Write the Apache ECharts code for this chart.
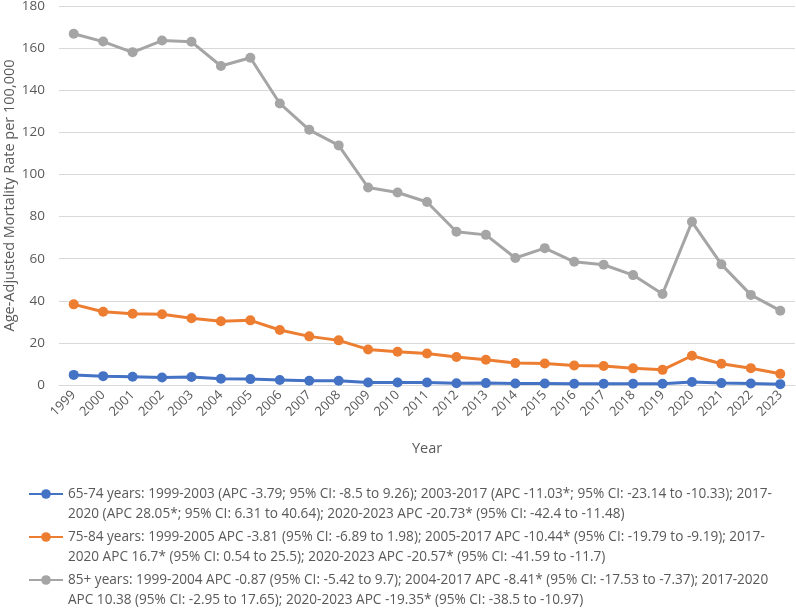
<!DOCTYPE html>
<html>
<head>
<meta charset="utf-8">
<script src="https://cdn.jsdelivr.net/npm/echarts@6/dist/echarts.min.js"></script>
<style>
  html, body { margin: 0; padding: 0; background: #fff; }
  #chart { width: 796px; height: 608px; }
</style>
</head>
<body>
<div id="chart"></div>
<script>
// years on the x axis
const years = [
  "1999", "2000", "2001", "2002", "2003", "2004", "2005", "2006", "2007",
  "2008", "2009", "2010", "2011", "2012", "2013", "2014", "2015", "2016",
  "2017", "2018", "2019", "2020", "2021", "2022", "2023",
];
// age-adjusted mortality rate per 100,000
const age6574 = [
  4.8, 4.2, 3.9, 3.6, 3.8, 3.0, 2.8, 2.4, 2.0, 2.0, 1.2, 1.2, 1.2, 0.8, 0.9,
  0.7, 0.7, 0.6, 0.6, 0.6, 0.6, 1.4, 0.9, 0.7, 0.4,
];
const age7584 = [
  38.3, 34.8, 33.8, 33.6, 31.7, 30.3, 30.7, 26.1, 23.1, 21.2, 16.9, 15.8,
  15.0, 13.3, 12.0, 10.4, 10.2, 9.3, 9.0, 7.9, 7.2, 13.9, 10.1, 8.0, 5.3,
];
const age85plus = [
  166.8, 163.1, 158.0, 163.6, 163.0, 151.5, 155.4, 133.7, 121.2, 113.8, 93.8,
  91.4, 86.9, 72.8, 71.3, 60.3, 65.0, 58.5, 57.1, 52.2, 43.2, 77.5, 57.3,
  42.8, 35.3,
];
const yTicks = { min: 0, max: 180, interval: 20 };

const seriesNames = ["65-74 years", "75-84 years", "85+ years"];
const legendText = {
  "65-74 years": [
    "65-74 years: 1999-2003 (APC -3.79; 95% CI: -8.5 to 9.26); 2003-2017 (APC -11.03*; 95% CI: -23.14 to -10.33); 2017-",
    "2020 (APC 28.05*; 95% CI: 6.31 to 40.64); 2020-2023 APC -20.73* (95% CI: -42.4 to -11.48)",
  ],
  "75-84 years": [
    "75-84 years: 1999-2005 APC -3.81 (95% CI: -6.89 to 1.98); 2005-2017 APC -10.44* (95% CI: -19.79 to -9.19); 2017-",
    "2020 APC 16.7* (95% CI: 0.54 to 25.5); 2020-2023 APC -20.57* (95% CI: -41.59 to -11.7)",
  ],
  "85+ years": [
    "85+ years: 1999-2004 APC -0.87 (95% CI: -5.42 to 9.7); 2004-2017 APC -8.41* (95% CI: -17.53 to -7.37); 2017-2020",
    "APC 10.38 (95% CI: -2.95 to 17.65); 2020-2023 APC -19.35* (95% CI: -38.5 to -10.97)",
  ],
};
const colors = ["#4472C4", "#ED7D31", "#A5A5A5"];

const chart = echarts.init(document.getElementById("chart"));
const font = "'Open Sans', 'Noto Sans', sans-serif";

function lineSeries(name, data, color) {
  return {
    name: name,
    type: "line",
    data: data,
    symbol: "circle",
    symbolSize: 10,
    lineStyle: { color: color, width: 3 },
    itemStyle: { color: color },
    emphasis: { disabled: true },
  };
}

// one legend per series so the two-line entries stack like the original
function legendFor(name, top) {
  return {
    orient: "vertical",
    left: 28,
    top: top,
    padding: 0,
    itemWidth: 34,
    itemHeight: 12,
    // empty first line keeps the icon level with the first text line
    formatter: (n) => "\n" + legendText[n].join("\n"),
    textStyle: { color: "#595959", fontSize: 13.6, lineHeight: 20, fontFamily: font },
    data: [name],
  };
}

const option = {
  animation: false,
  textStyle: { fontFamily: font },
  grid: {
    left: 59, right: 1, top: 6, bottom: 223,
    containLabel: false,
    outerBoundsMode: "none",
  },
  legend: [
    legendFor(seriesNames[0], 464),
    legendFor(seriesNames[1], 507),
    legendFor(seriesNames[2], 550),
  ],
  xAxis: {
    type: "category",
    data: years,
    boundaryGap: true,
    name: "Year",
    nameLocation: "middle",
    nameGap: 56,
    nameMoveOverlap: false,
    nameTextStyle: { color: "#595959", fontSize: 14.5, fontFamily: font },
    axisTick: { show: false },
    axisLine: { lineStyle: { color: "#D9D9D9" } },
    axisLabel: { color: "#595959", fontSize: 13, rotate: 45, margin: 8, fontFamily: font },
  },
  yAxis: {
    type: "value",
    min: yTicks.min,
    max: yTicks.max,
    interval: yTicks.interval,
    name: "Age-Adjusted Mortality Rate per 100,000",
    nameLocation: "middle",
    nameGap: 42,
    nameMoveOverlap: false,
    nameTextStyle: { color: "#595959", fontSize: 14.5, fontFamily: font },
    axisLine: { show: false },
    axisTick: { show: false },
    axisLabel: { color: "#595959", fontSize: 13.5, margin: 14, fontFamily: font },
    splitLine: { lineStyle: { color: "#D9D9D9", width: 1 } },
  },
  series: [
    lineSeries(seriesNames[0], age6574, colors[0]),
    lineSeries(seriesNames[1], age7584, colors[1]),
    lineSeries(seriesNames[2], age85plus, colors[2]),
  ],
};
chart.setOption(option);
</script>
</body>
</html>
